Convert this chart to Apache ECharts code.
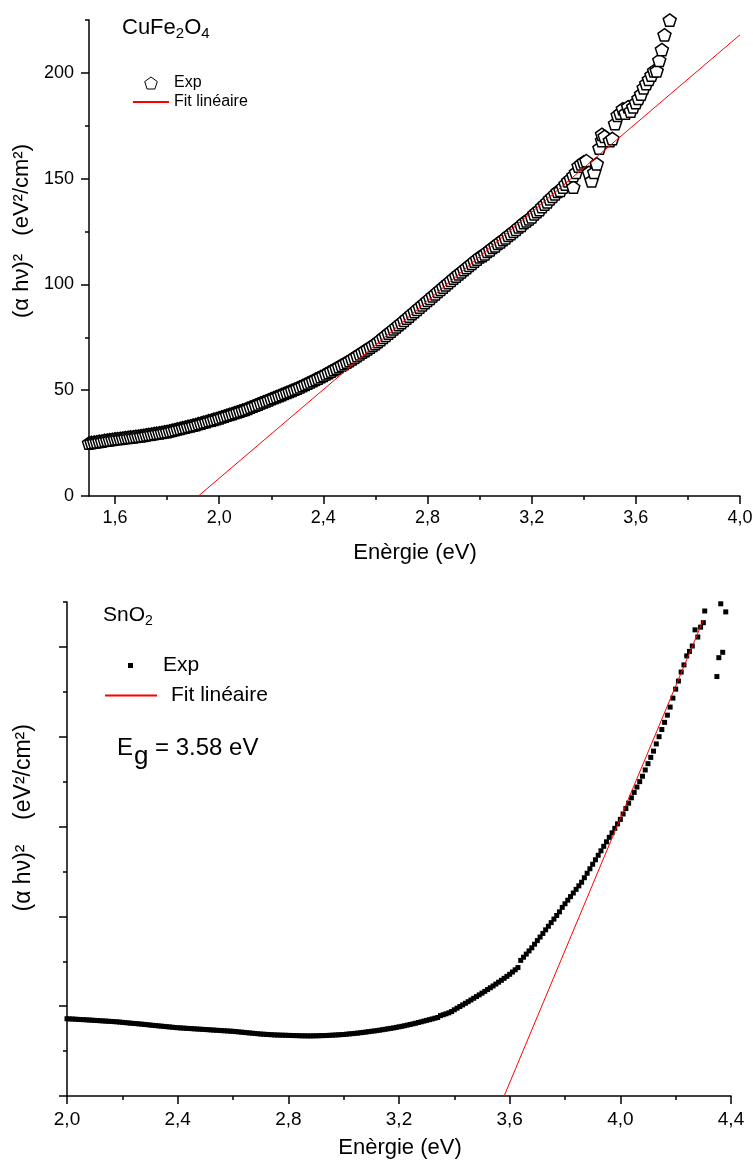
<!DOCTYPE html>
<html>
<head>
<meta charset="utf-8">
<script src="https://cdn.jsdelivr.net/npm/echarts@6/dist/echarts.min.js"></script>
<style>
html, body { margin: 0; padding: 0; background: #fff; }
#chart { width: 753px; height: 1160px; }
</style>
</head>
<body>
<div id="chart"></div>
<script>
// CuFe2O4 : [E (eV), (alpha h nu)^2]
const cuExp = [
  [1.50,25.0],[1.51,25.3],[1.52,25.5],[1.53,25.6],[1.54,25.9],[1.55,26.0],[1.56,26.3],[1.57,26.4],[1.58,26.6],[1.59,26.8],
  [1.60,27.0],[1.61,27.1],[1.62,27.3],[1.63,27.4],[1.64,27.6],[1.65,27.7],[1.66,27.9],[1.67,28.0],[1.68,28.2],[1.69,28.3],
  [1.70,28.5],[1.71,28.7],[1.72,28.9],[1.73,29.1],[1.74,29.3],[1.75,29.5],[1.76,29.7],[1.77,29.9],[1.78,30.1],[1.79,30.3],
  [1.80,30.5],[1.81,30.8],[1.82,31.1],[1.83,31.4],[1.84,31.7],[1.85,32.0],[1.86,32.3],[1.87,32.6],[1.88,32.9],[1.89,33.2],
  [1.90,33.5],[1.91,33.8],[1.92,34.2],[1.93,34.5],[1.94,34.9],[1.95,35.2],[1.96,35.6],[1.97,35.9],[1.98,36.3],[1.99,36.6],
  [2.00,37.0],[2.01,37.4],[2.02,37.8],[2.03,38.2],[2.04,38.6],[2.05,39.0],[2.06,39.4],[2.07,39.8],[2.08,40.2],[2.09,40.6],
  [2.10,41.0],[2.11,41.5],[2.12,42.0],[2.13,42.5],[2.14,43.0],[2.15,43.5],[2.16,44.0],[2.17,44.5],[2.18,45.0],[2.19,45.5],
  [2.20,46.0],[2.21,46.5],[2.22,47.0],[2.23,47.5],[2.24,48.0],[2.25,48.5],[2.26,49.0],[2.27,49.5],[2.28,50.0],[2.29,50.5],
  [2.30,51.0],[2.31,51.6],[2.32,52.2],[2.33,52.8],[2.34,53.4],[2.35,54.0],[2.36,54.6],[2.37,55.2],[2.38,55.8],[2.39,56.4],
  [2.40,57.0],[2.41,57.7],[2.42,58.4],[2.43,59.1],[2.44,59.8],[2.45,60.5],[2.46,61.2],[2.47,61.9],[2.48,62.6],[2.49,63.3],
  [2.50,64.0],[2.51,64.8],[2.52,65.6],[2.53,66.4],[2.54,67.2],[2.55,68.0],[2.56,68.8],[2.57,69.6],[2.58,70.4],[2.59,71.2],
  [2.60,72.0],[2.61,73.0],[2.62,74.0],[2.63,75.0],[2.64,76.0],[2.65,77.0],[2.66,78.0],[2.67,79.0],[2.68,80.0],[2.69,81.0],
  [2.70,82.0],[2.71,83.0],[2.72,84.1],[2.73,85.1],[2.74,86.2],[2.75,87.2],[2.76,88.3],[2.77,89.3],[2.78,90.4],[2.79,91.4],
  [2.80,92.5],[2.81,93.5],[2.82,94.6],[2.83,95.6],[2.84,96.7],[2.85,97.7],[2.86,98.8],[2.87,99.8],[2.88,100.9],[2.89,101.9],
  [2.90,103.0],[2.91,104.0],[2.92,105.0],[2.93,106.0],[2.94,107.0],[2.95,108.0],[2.96,109.0],[2.97,110.0],[2.98,111.0],[2.99,112.0],
  [3.00,113.0],[3.01,113.6],[3.02,114.5],[3.03,115.6],[3.04,116.4],[3.05,117.5],[3.06,118.3],[3.07,119.4],[3.08,120.2],[3.09,121.2],
  [3.10,122.0],[3.11,123.2],[3.12,124.0],[3.13,125.1],[3.14,126.0],[3.15,127.2],[3.16,128.0],[3.17,129.3],[3.18,130.1],[3.19,131.0],
  [3.20,132.0],[3.21,133.4],[3.22,134.5],[3.23,135.4],[3.24,136.8],[3.25,138.0],[3.26,139.1],[3.27,140.5],[3.28,141.6],[3.29,142.8],
  [3.30,144.0],[3.31,144.5],[3.32,146.0],[3.33,147.5],[3.34,149.0],[3.35,150.0],[3.36,146.0],[3.36,151.5],[3.37,153.0],[3.38,156.0],
  [3.39,157.0],[3.40,158.0],[3.41,158.5],[3.42,153.0],[3.43,149.0],[3.44,153.0],[3.45,157.0],[3.46,164.5],[3.47,168.0],[3.47,171.0],
  [3.48,170.0],[3.50,168.0],[3.51,169.0],[3.52,176.0],[3.53,180.0],[3.54,181.0],[3.55,183.0],[3.56,181.0],[3.57,184.0],[3.58,182.0],
  [3.59,184.0],[3.60,186.0],[3.61,188.0],[3.62,190.0],[3.63,193.0],[3.64,195.0],[3.65,197.0],[3.66,199.0],[3.67,201.0],[3.68,201.0],
  [3.69,206.0],[3.70,211.0],[3.71,218.0],[3.73,225.0],[3.74,226.0]
];
const cuFit = [[1.92, 0], [4.0, 218]];
const cuXMajor = [1.6, 2.0, 2.4, 2.8, 3.2, 3.6, 4.0];
const cuXMinor = [1.8, 2.2, 2.6, 3.0, 3.4, 3.8];
const cuYMajor = [0, 50, 100, 150, 200];
const cuYMinor = [25, 75, 125, 175, 225];

// SnO2 : [E (eV), (alpha h nu)^2] (arbitrary units, no y labels in the source)
const snExp = [
  [2.00,0.860],[2.01,0.858],[2.02,0.857],[2.03,0.855],[2.04,0.853],[2.05,0.851],[2.06,0.850],[2.07,0.848],[2.08,0.846],[2.09,0.844],
  [2.10,0.842],[2.11,0.840],[2.12,0.838],[2.13,0.836],[2.14,0.834],[2.15,0.832],[2.16,0.830],[2.17,0.828],[2.18,0.826],[2.19,0.823],
  [2.20,0.820],[2.21,0.817],[2.22,0.814],[2.23,0.811],[2.24,0.808],[2.25,0.806],[2.26,0.803],[2.27,0.800],[2.28,0.797],[2.29,0.794],
  [2.30,0.790],[2.31,0.787],[2.32,0.784],[2.33,0.781],[2.34,0.778],[2.35,0.775],[2.36,0.772],[2.37,0.769],[2.38,0.766],[2.39,0.763],
  [2.40,0.760],[2.41,0.758],[2.42,0.756],[2.43,0.754],[2.44,0.752],[2.45,0.750],[2.46,0.748],[2.47,0.746],[2.48,0.744],[2.49,0.742],
  [2.50,0.740],[2.51,0.738],[2.52,0.736],[2.53,0.734],[2.54,0.732],[2.55,0.730],[2.56,0.728],[2.57,0.726],[2.58,0.724],[2.59,0.722],
  [2.60,0.720],[2.61,0.717],[2.62,0.714],[2.63,0.711],[2.64,0.708],[2.65,0.705],[2.66,0.702],[2.67,0.699],[2.68,0.696],[2.69,0.693],
  [2.70,0.690],[2.71,0.688],[2.72,0.686],[2.73,0.684],[2.74,0.682],[2.75,0.680],[2.76,0.679],[2.77,0.678],[2.78,0.677],[2.79,0.676],
  [2.80,0.675],[2.81,0.674],[2.82,0.673],[2.83,0.672],[2.84,0.671],[2.85,0.670],[2.86,0.670],[2.87,0.669],[2.88,0.669],[2.89,0.670],
  [2.90,0.670],[2.91,0.671],[2.92,0.672],[2.93,0.673],[2.94,0.674],[2.95,0.676],[2.96,0.677],[2.97,0.679],[2.98,0.681],[2.99,0.683],
  [3.00,0.685],[3.01,0.688],[3.02,0.691],[3.03,0.694],[3.04,0.697],[3.05,0.700],[3.06,0.704],[3.07,0.708],[3.08,0.712],[3.09,0.716],
  [3.10,0.720],[3.11,0.724],[3.12,0.728],[3.13,0.733],[3.14,0.738],[3.15,0.743],[3.16,0.748],[3.17,0.753],[3.18,0.758],[3.19,0.764],
  [3.20,0.770],[3.21,0.776],[3.22,0.782],[3.23,0.789],[3.24,0.796],[3.25,0.803],[3.26,0.810],[3.27,0.818],[3.28,0.826],[3.29,0.834],
  [3.30,0.842],[3.31,0.850],[3.32,0.858],[3.33,0.866],[3.34,0.874],[3.35,0.895],[3.36,0.905],[3.37,0.915],[3.38,0.926],[3.39,0.940],
  [3.40,0.960],[3.41,0.978],[3.42,0.996],[3.43,1.014],[3.44,1.032],[3.45,1.050],[3.46,1.069],[3.47,1.088],[3.48,1.107],[3.49,1.126],
  [3.50,1.145],[3.51,1.165],[3.52,1.185],[3.53,1.205],[3.54,1.225],[3.55,1.246],[3.56,1.267],[3.57,1.288],[3.58,1.310],[3.59,1.332],
  [3.60,1.355],[3.61,1.380],[3.62,1.405],[3.63,1.430],[3.64,1.510],[3.65,1.545],[3.66,1.580],[3.67,1.615],[3.68,1.650],[3.69,1.690],
  [3.70,1.730],[3.71,1.770],[3.72,1.810],[3.73,1.850],[3.74,1.890],[3.75,1.930],[3.76,1.970],[3.77,2.010],[3.78,2.050],[3.79,2.100],
  [3.80,2.140],[3.81,2.180],[3.82,2.220],[3.83,2.260],[3.84,2.300],[3.85,2.340],[3.86,2.380],[3.87,2.430],[3.88,2.480],[3.89,2.530],
  [3.90,2.580],[3.91,2.630],[3.92,2.680],[3.93,2.730],[3.94,2.780],[3.95,2.830],[3.96,2.880],[3.97,2.930],[3.98,2.980],[3.99,3.030],
  [4.00,3.080],[4.01,3.140],[4.02,3.200],[4.03,3.260],[4.04,3.320],[4.05,3.380],[4.06,3.440],[4.07,3.500],[4.08,3.560],[4.09,3.630],
  [4.10,3.700],[4.11,3.770],[4.12,3.840],[4.13,3.920],[4.14,4.000],[4.15,4.080],[4.16,4.160],[4.17,4.240],[4.18,4.330],[4.19,4.430],
  [4.20,4.530],[4.21,4.620],[4.22,4.720],[4.23,4.800],[4.24,4.900],[4.25,4.950],[4.26,5.010],[4.27,5.190],[4.28,5.110],[4.29,5.220],
  [4.30,5.270],[4.305,5.400],[4.349,4.670],[4.356,4.880],[4.363,5.480],[4.370,4.940],[4.381,5.390]
];
const snFit = [[3.58, 0], [4.30, 5.30]];
const snXMajor = [2.0, 2.4, 2.8, 3.2, 3.6, 4.0, 4.4];
const snXMinor = [2.2, 2.6, 3.0, 3.4, 3.8, 4.2];
const snYMajor = [0, 1, 2, 3, 4, 5];
const snYMinor = [0.5, 1.5, 2.5, 3.5, 4.5, 5.5];

const FONT = "'Liberation Sans', Arial, Helvetica, sans-serif";
const PENTA = 'path://M10,0 L19.51,6.91 L15.88,18.09 L4.12,18.09 L0.49,6.91 Z';
const SQUARE = 'path://M0,0 L10,0 L10,10 L0,10 Z';
const tickStyle = { color: '#000', width: 1.5 };
const comma = v => v.toFixed(1).replace('.', ',');
const noSymbol = { color: 'transparent', borderWidth: 0, opacity: 0 };

function majorAxis (gridIndex, position, min, max, ticks, label) {
  return {
    type: 'value', gridIndex, position, min, max,
    axisLine: { show: true, onZero: false, lineStyle: { color: '#000', width: 1.5 } },
    axisTick: { show: true, inside: false, customValues: ticks, length: 8, lineStyle: tickStyle },
    axisLabel: label
      ? Object.assign({ show: true, customValues: ticks, color: '#000', fontFamily: FONT }, label)
      : { show: false },
    splitLine: { show: false }
  }
}

function minorAxis (gridIndex, position, min, max, ticks) {
  return {
    type: 'value', gridIndex, position, min, max,
    axisLine: { show: false, onZero: false },
    axisTick: { show: true, inside: false, customValues: ticks, length: 4, lineStyle: tickStyle },
    axisLabel: { show: false },
    splitLine: { show: false }
  }
}

function plainText (x, y, text, size, mode) {
  return {
    type: 'text', x, y, rotation: mode === 'rotate' ? Math.PI / 2 : 0,
    style: {
      text, font: size + 'px ' + FONT, fill: '#000',
      align: mode ? 'center' : 'left', verticalAlign: 'middle'
    }
  }
}

const chart = echarts.init(document.getElementById('chart'), null, { renderer: 'canvas' })

const option = {
  backgroundColor: '#fff',
  animation: false,
  textStyle: { fontFamily: FONT, color: '#000' },
  grid: [
    { left: 89, top: 20, width: 651, height: 476, outerBoundsMode: 'none' },
    { left: 67, top: 602, width: 664, height: 494, outerBoundsMode: 'none' }
  ],
  xAxis: [
    majorAxis(0, 'bottom', 1.5, 4.0, cuXMajor, { fontSize: 18, margin: 13, formatter: comma }),
    minorAxis(0, 'bottom', 1.5, 4.0, cuXMinor),
    majorAxis(1, 'bottom', 2.0, 4.4, snXMajor, { fontSize: 19, margin: 14, formatter: comma }),
    minorAxis(1, 'bottom', 2.0, 4.4, snXMinor)
  ],
  yAxis: [
    majorAxis(0, 'left', 0, 225, cuYMajor, { fontSize: 18, margin: 15 }),
    minorAxis(0, 'left', 0, 225, cuYMinor),
    majorAxis(1, 'left', 0, 5.5, snYMajor, null),
    minorAxis(1, 'left', 0, 5.5, snYMinor)
  ],
  legend: [
    {
      left: 132, top: 75, orient: 'vertical', padding: 0, itemGap: 3,
      itemWidth: 36, itemHeight: 12, selectedMode: false,
      textStyle: { fontSize: 16, fontFamily: FONT, color: '#000' },
      data: [
        { name: 'Exp', icon: PENTA, itemStyle: { color: '#fff', borderColor: '#000', borderWidth: 1 } },
        { name: 'Fit linéaire', itemStyle: noSymbol }
      ]
    },
    {
      left: 128, top: 655, padding: 0, itemWidth: 5, itemHeight: 5, selectedMode: false,
      textStyle: { fontSize: 21, fontFamily: FONT, color: '#000', padding: [0, 0, 0, 25] },
      formatter: () => 'Exp',
      data: [{ name: 'SnO2 Exp', icon: SQUARE, itemStyle: { color: '#000' } }]
    },
    {
      left: 104, top: 685, padding: 0, itemWidth: 52, itemHeight: 12, selectedMode: false,
      textStyle: { fontSize: 21, fontFamily: FONT, color: '#000', padding: [0, 0, 0, 9] },
      formatter: () => 'Fit linéaire',
      data: [{ name: 'SnO2 Fit', itemStyle: noSymbol }]
    }
  ],
  graphic: [
    {
      type: 'text', x: 122, y: 15,
      style: {
        text: '{a|CuFe}{s|2}{a|O}{s|4}', fill: '#000',
        rich: {
          a: { fontSize: 22, lineHeight: 26, fontFamily: FONT, fill: '#000' },
          s: { fontSize: 15, lineHeight: 8, verticalAlign: 'bottom', fontFamily: FONT, fill: '#000' }
        }
      }
    },
    {
      type: 'text', x: 103, y: 602,
      style: {
        text: '{a|SnO}{s|2}', fill: '#000',
        rich: {
          a: { fontSize: 21, lineHeight: 26, fontFamily: FONT, fill: '#000' },
          s: { fontSize: 14, lineHeight: 8, verticalAlign: 'bottom', fontFamily: FONT, fill: '#000' }
        }
      }
    },
    plainText(117, 748, 'E', 24),
    plainText(134, 757, 'g', 26),
    plainText(155, 748, '= 3.58 eV', 24),
    plainText(22, 231, '(α hν)²   (eV²/cm²)', 22, 'rotate'),
    plainText(24, 878, '(α hν)²', 23, 'rotate'),
    plainText(24, 772, '(eV²/cm²)', 23, 'rotate'),
    plainText(415, 553, 'Enèrgie (eV)', 22, 'center'),
    plainText(400, 1148, 'Enèrgie (eV)', 22, 'center')
  ],
  series: [
    {
      name: 'Exp', type: 'scatter', xAxisIndex: 0, yAxisIndex: 0, data: cuExp,
      symbol: PENTA, symbolSize: 13, symbolKeepAspect: true, silent: true, z: 2,
      itemStyle: { color: '#fff', borderColor: '#000', borderWidth: 1.5, opacity: 1 }
    },
    {
      name: 'Fit linéaire', type: 'line', xAxisIndex: 0, yAxisIndex: 0, data: cuFit,
      symbol: 'none', silent: true, z: 3,
      itemStyle: { color: '#ff0000' }, lineStyle: { color: '#ff0000', width: 1 }
    },
    {
      name: 'SnO2 Exp', type: 'scatter', xAxisIndex: 2, yAxisIndex: 2, data: snExp,
      symbol: 'rect', symbolSize: 5, silent: true, z: 2,
      itemStyle: { color: '#000', opacity: 1 }
    },
    {
      name: 'SnO2 Fit', type: 'line', xAxisIndex: 2, yAxisIndex: 2, data: snFit,
      symbol: 'none', silent: true, z: 3,
      itemStyle: { color: '#ff0000' }, lineStyle: { color: '#ff0000', width: 1 }
    }
  ]
}

chart.setOption(option)
</script>
</body>
</html>
